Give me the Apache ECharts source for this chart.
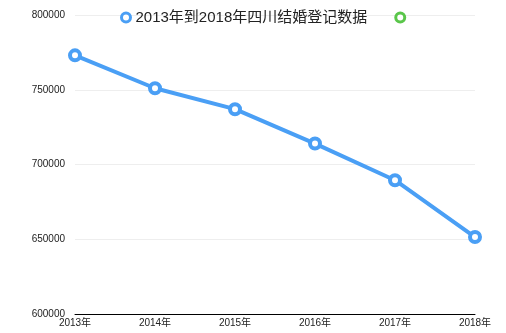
<!DOCTYPE html>
<html><head><meta charset="utf-8">
<script src="https://cdn.jsdelivr.net/npm/echarts@6/dist/echarts.min.js"></script>
<style>html,body{margin:0;padding:0;background:#fff}#c{width:506px;height:333px}</style>
</head><body><div id="c"></div>
<script>
var categories = ['2013年','2014年','2015年','2016年','2017年','2018年'];
var seriesName = '2013年到2018年四川结婚登记数据';
var values = [773000, 751000, 737000, 714000, 689500, 651500];
var chart = echarts.init(document.getElementById('c'));
chart.setOption({
  animation: false,
  legend: {
    top: 5, left: 115,
    icon: 'circle',
    itemWidth: 9, itemHeight: 9, itemGap: 27,
    itemStyle: {color: '#fff', borderWidth: 3},
    textStyle: {fontSize: 15, color: '#222', fontFamily: 'Liberation Sans, Noto Sans CJK SC'},
    data: [{name: seriesName, itemStyle: {borderColor: '#4a9ff5'}}, {name: ' ', itemStyle: {borderColor: '#5ac64a'}}]
  },
  grid: {left: 75, right: 31, top: 15, bottom: 19, containLabel: false},
  xAxis: {
    type: 'category', data: categories, boundaryGap: false,
    axisLine: {lineStyle: {color: '#000', width: 1}},
    axisTick: {show: false},
    axisLabel: {fontSize: 10, color: '#222', margin: 4, fontFamily: 'Liberation Sans, Noto Sans CJK SC'}
  },
  yAxis: {
    type: 'value', min: 600000, max: 800000, interval: 50000,
    axisLine: {show: false}, axisTick: {show: false},
    axisLabel: {fontSize: 10, color: '#222', margin: 10, fontFamily: 'Liberation Sans',
      formatter: function (v) { return String(v); }},
    splitLine: {lineStyle: {color: '#eee'}}
  },
  series: [
    {name: seriesName, type: 'line', data: values,
     symbol: 'circle', symbolSize: 10,
     itemStyle: {color: '#fff', borderColor: '#4a9ff5', borderWidth: 4},
     lineStyle: {width: 4, color: '#4a9ff5'}},
    {name: ' ', type: 'line', data: [],
     symbol: 'circle', symbolSize: 10,
     itemStyle: {color: '#fff', borderColor: '#5ac64a', borderWidth: 4},
     lineStyle: {width: 4, color: '#5ac64a'}}
  ]
});
</script></body></html>
